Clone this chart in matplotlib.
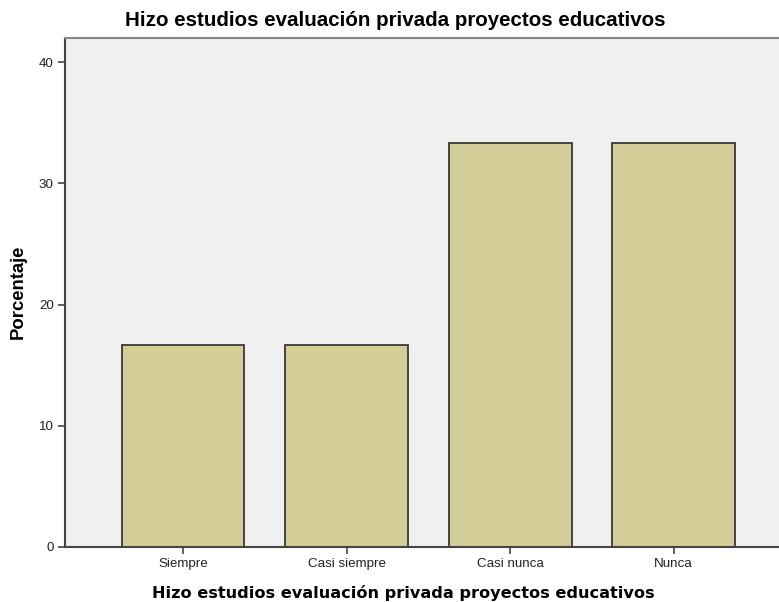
import numpy as np
import matplotlib.pyplot as plt

categorias = ['Siempre', 'Casi siempre', 'Casi nunca', 'Nunca']
porcentajes = [16.67, 16.67, 33.33, 33.33]
yticks = [0, 10, 20, 30, 40]

fig = plt.figure(figsize=(7.79, 6.02), dpi=100)
ax = fig.add_axes([0.0834, 0.0914, 0.9166, 0.8455])
ax.set_facecolor('#F0F0F0')

x = np.arange(len(categorias))
ax.bar(x, porcentajes, width=0.752, color='#D3CE98', edgecolor='#2b2b2b', linewidth=1.2, zorder=2)

ax.set_xlim(-0.722, 3.645)
ax.set_ylim(0, 42)
ax.set_xticks(x)
ax.set_xticklabels(categorias, fontsize=9.6, family='Liberation Sans', color='#222222')
ax.set_yticks(yticks)
ax.set_yticklabels([str(t) for t in yticks], fontsize=9.6, family='Liberation Sans', color='#222222')
ax.tick_params(axis='both', direction='out', length=5, width=1.2, color='#444444', pad=3)

ax.spines['right'].set_visible(False)
ax.spines['left'].set_color('#444444')
ax.spines['bottom'].set_color('#444444')
ax.spines['top'].set_color('#888888')
ax.spines['left'].set_linewidth(1.5)
ax.spines['bottom'].set_linewidth(1.5)
ax.spines['top'].set_linewidth(1.5)

fig.text(0.5075, 0.966, 'Hizo estudios evaluación privada proyectos educativos',
         ha='center', va='center', fontsize=14.8, fontweight='bold', family='Liberation Sans')
fig.text(0.518, 0.015, 'Hizo estudios evaluación privada proyectos educativos',
         ha='center', va='center', fontsize=11.6, fontweight='bold', family='DejaVu Sans')
fig.text(0.023, 0.515, 'Porcentaje', ha='center', va='center', rotation=90,
         fontsize=13.3, fontweight='bold', family='Liberation Sans')

fig.savefig('out.png', dpi=100)
